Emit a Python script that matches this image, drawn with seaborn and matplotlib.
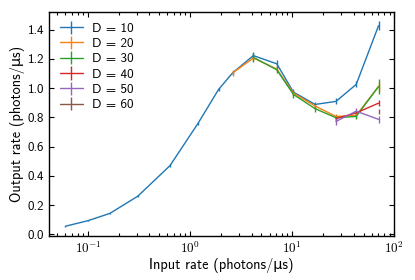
import matplotlib
matplotlib.use("Agg")
import matplotlib.pyplot as plt
import matplotlib.ticker as mticker
import numpy as np
import seaborn as sns

# DATA
x_all = [0.06, 0.1, 0.164, 0.307, 0.637, 1.2, 1.9, 2.62, 4.17, 7.07, 10.3, 16.8, 26.9, 42.4, 70.2]

d10_y = [0.055, 0.093, 0.143, 0.26, 0.47, 0.76, 0.99, 1.105, 1.222, 1.166, 0.972, 0.888, 0.909, 1.025, 1.427]
d10_err = [0.003, 0.004, 0.005, 0.006, 0.008, 0.01, 0.012, 0.015, 0.025, 0.025, 0.02, 0.015, 0.02, 0.02, 0.03]

d20_x = [2.62, 4.17, 7.07, 10.3, 16.8, 26.9, 42.4, 70.2]
d20_y = [1.104, 1.206, 1.13, 0.965, 0.877, 0.806, 0.813, 1.011]
d20_err = [0.02, 0.02, 0.02, 0.02, 0.02, 0.02, 0.02, 0.03]

d30_x = [4.17, 7.07, 10.3, 16.8, 26.9, 42.4, 70.2]
d30_y = [1.21, 1.125, 0.956, 0.859, 0.797, 0.806, 1.011]
d30_err = [0.03, 0.025, 0.025, 0.02, 0.02, 0.02, 0.05]

d40_x = [26.9, 42.4, 70.2]
d40_y = [0.792, 0.83, 0.897]
d40_err = [0.015, 0.015, 0.02]

d50_x = [26.9, 42.4, 70.2]
d50_y = [0.772, 0.842, 0.786]
d50_err = [0.025, 0.025, 0.025]

d60_x = [70.2]
d60_y = [0.84]
d60_err = [0.02]

series = [
    ("D = 10", x_all, d10_y, d10_err),
    ("D = 20", d20_x, d20_y, d20_err),
    ("D = 30", d30_x, d30_y, d30_err),
    ("D = 40", d40_x, d40_y, d40_err),
    ("D = 50", d50_x, d50_y, d50_err),
    ("D = 60", d60_x, d60_y, d60_err),
]

sns.set_theme(style="ticks")
plt.rcParams["font.family"] = ["cmss10", "DejaVu Sans"]
plt.rcParams["mathtext.fontset"] = "cm"
plt.rcParams["axes.unicode_minus"] = False
plt.rcParams["font.size"] = 9
for k in ["text.color", "axes.labelcolor", "xtick.color", "ytick.color", "axes.edgecolor"]:
    plt.rcParams[k] = "black"
colors = sns.color_palette("tab10")

fig, ax = plt.subplots(figsize=(4.15, 2.8), dpi=100)

for (label, xs, ys, es), c in zip(series, colors):
    ax.errorbar(xs, ys, yerr=es, color=c, lw=1.0, elinewidth=1.0, label=label)

ax.set_xscale("log")
ax.set_xlim(0.0415, 100)
ax.set_ylim(-0.012, 1.52)
ax.set_yticks([0.0, 0.2, 0.4, 0.6, 0.8, 1.0, 1.2, 1.4])
ax.xaxis.set_major_formatter(mticker.FuncFormatter(
    lambda v, p: r"$\mathsf{10^{%d}}$" % int(round(np.log10(v)))))
ax.tick_params(which="both", direction="in", top=True, right=True, labelsize=9.4,
               width=0.8, color="black")
ax.tick_params(which="major", length=3.5)
ax.tick_params(which="minor", length=2)
for s in ax.spines.values():
    s.set_linewidth(1.0)

ax.set_xlabel("Input rate (photons/μs)", fontsize=10.3, labelpad=1)
ax.set_ylabel("Output rate (photons/μs)", fontsize=10.3, labelpad=2)
ax.legend(loc="upper left", frameon=False, fontsize=9.5, handlelength=1.8,
          handletextpad=0.65, labelspacing=0.23, borderaxespad=0.4)

fig.subplots_adjust(left=0.118, right=0.95, top=0.957, bottom=0.157)
fig.savefig("out.png", dpi=100)
